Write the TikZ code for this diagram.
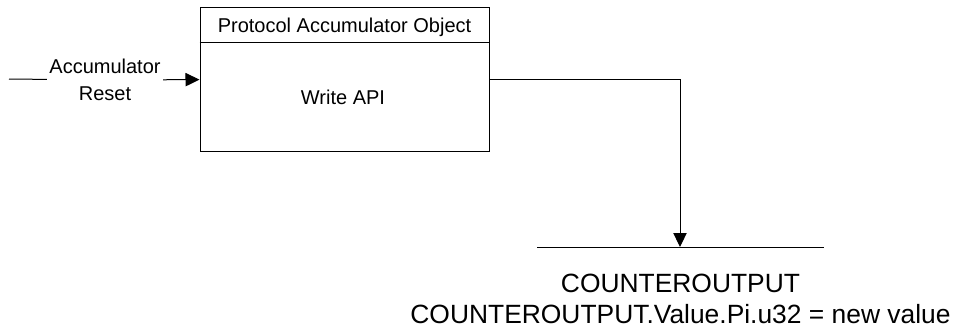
\documentclass[tikz,border=0pt]{standalone}
\usepackage{fontspec}
\setmainfont{Liberation Sans}
\usetikzlibrary{positioning,arrows.meta}

\begin{document}
\begin{tikzpicture}[
  x=0.75pt, y=-0.75pt,
  line width=0.75pt,
  objbox/.style={
        draw,
        rectangle,
        minimum width=216.75pt,
        minimum height=108pt,
        inner sep=0pt
  },
  label/.style={
        font=\fontsize{15}{20}\selectfont,
        inner sep=1.5pt,
        align=center
  },
  outlabel/.style={
        font=\fontsize{19.8}{23.25}\selectfont,
        inner sep=0pt,
        align=center
  },
  tip/.style={-{Triangle[length=10.5pt, width=10pt]}}
]

    \useasboundingbox (0,0) rectangle (961,330);

    \coordinate (In) at (9,79);
    \coordinate (Bus_L) at (537,247);
    \coordinate (Bus) at (680,247);
    \coordinate (Bus_R) at (824,247);

    \node[objbox] (Obj) at (344.5,79) {};
    \node[label, anchor=base] (Obj_title) at (344.5,32) {Protocol Accumulator Object};
    \node[label, anchor=base] (Write) at (343,104) {Write API};
    \node[label] (Reset) at (105,80) {Accumulator\\Reset};
    \node[outlabel, anchor=base] (Out) at (680.5,323) {COUNTEROUTPUT\\COUNTEROUTPUT.Value.Pi.u32 = new value};

    \draw ([yshift=-27pt]Obj.north west) -- ([yshift=-27pt]Obj.north east);

    \draw (In) -- (Reset);
    \draw[tip] (Reset) -- (Obj);
    \draw[tip] (Obj.east) -| (Bus);
    \draw (Bus_L) -- (Bus_R);
\end{tikzpicture}
\end{document}
